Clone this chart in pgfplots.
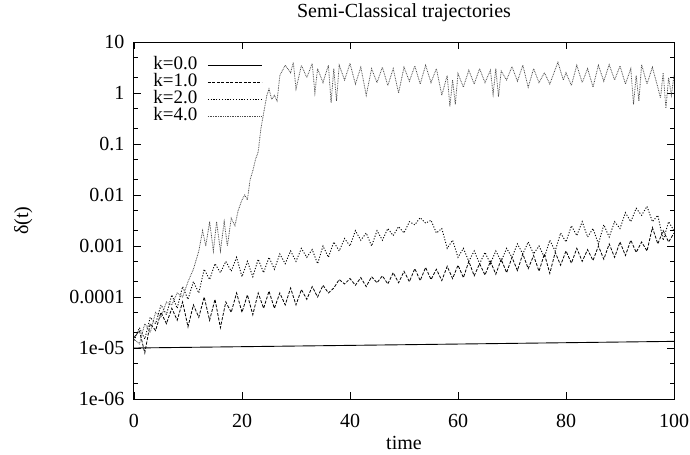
\documentclass[border=0pt]{standalone}
\usepackage{fontspec}
\setmainfont{Liberation Serif}
\usepackage{pgfplots}
\pgfplotsset{compat=1.18}
\begin{document}
\begin{tikzpicture}
\begin{axis}[
  name=ax,
  scale only axis, width=540bp, height=357bp,
  font=\fontsize{20bp}{23bp}\selectfont,
  xmin=0, xmax=100, ymode=log, ymin=1e-6, ymax=10,
  xtick={0,20,40,60,80,100},
  ytick={1e-6,1e-5,1e-4,1e-3,1e-2,1e-1,1,10},
  yticklabels={1e-06,1e-05,0.0001,0.001,0.01,0.1,1,10},
  minor ytick={2e-6,5e-6,2e-5,5e-5,2e-4,5e-4,2e-3,5e-3,0.02,0.05,0.2,0.5,2,5},
  /pgf/number format/assume math mode=true,
  tick align=inside, xtick pos=both, ytick pos=both,
  major tick length=7bp, minor tick length=4bp,
  every tick/.style={black, line width=0.8bp},
  axis line style={line width=1bp},
  xticklabel style={yshift=-12bp},
  yticklabel style={xshift=-6bp},
  title={Semi-Classical trajectories},
  title style={at={(axis description cs:0.5,1)}, anchor=base, yshift=19bp},
  xlabel={time},
  xlabel style={at={(axis description cs:0.5,0)}, anchor=base, yshift=-50bp},
  ylabel={δ(t)},
  ylabel style={at={(axis description cs:-0.205,0.5)}, anchor=center, rotate=0},
  legend style={draw=none, fill=none, at={(axis description cs:0.03,0.965)}, anchor=north west,
    font=\fontsize{19bp}{21bp}\selectfont,
    nodes={text height=13bp, text depth=4bp, inner sep=0bp}, row sep=0pt, column sep=10bp,
    cells={anchor=east}},
  legend plot pos=right,
  legend image code/.code={\draw[#1] (0bp,0bp) -- (54bp,0bp);},
]
% k=0
\addplot[black, solid, line width=0.9bp] table {
0 1.0e-5
50 1.16e-5
100 1.35e-5
};
\addlegendentry{k=0.0}
% k=1
\addplot[black, line width=0.8bp, dash pattern=on 3bp off 1.5bp] table {
0 1.6e-5
1 2.2e-5
2 8e-6
3 3e-5
4 2.2e-5
5 5e-5
6 3e-5
7 6e-5
8 3.5e-5
9 8e-5
10 2.6e-5
11 7e-5
12 4e-5
13 1e-4
14 3.5e-5
15 9e-5
16 2.5e-5
17 8e-5
18 5e-5
19 1.2e-4
20 5e-5
21 1.1e-4
22 4.5e-5
23 1.2e-4
24 6e-5
25 1.3e-4
26 6e-5
27 1.2e-4
28 7e-5
29 1.5e-4
30 7e-5
31 1.4e-4
32 9e-5
33 1.6e-4
34 1e-4
35 1.7e-4
36 1.2e-4
37 1.5e-4
38 2.2e-4
39 1.8e-4
40 2.3e-4
41 1.7e-4
42 2.4e-4
43 1.6e-4
44 2.5e-4
45 1.9e-4
46 2.6e-4
47 1.8e-4
48 3e-4
49 1.9e-4
50 3.2e-4
51 2e-4
52 3.6e-4
53 2.1e-4
54 3.8e-4
55 2.2e-4
56 3.5e-4
57 2.1e-4
58 4e-4
59 2.3e-4
60 4.2e-4
61 2.4e-4
62 5e-4
63 2.6e-4
64 4.5e-4
65 2.7e-4
66 5e-4
67 2.8e-4
68 5.5e-4
69 3e-4
70 6e-4
71 3.3e-4
72 7e-4
73 3.6e-4
74 6.5e-4
75 3.2e-4
76 7e-4
77 2.9e-4
78 7.5e-4
79 4.2e-4
80 8e-4
81 4.6e-4
82 9e-4
83 5e-4
84 8.5e-4
85 5.2e-4
86 1e-3
87 5.5e-4
88 1.1e-3
89 6e-4
90 1.2e-3
91 6.5e-4
92 1.3e-3
93 7.5e-4
94 1.2e-3
95 8e-4
96 2.3e-3
97 1.1e-3
98 2e-3
99 1.2e-3
100 1.8e-3
};
\addlegendentry{k=1.0}
% k=2
\addplot[black, line width=0.9bp, dash pattern=on 1.1bp off 1.7bp] table {
0 1.4e-5
1 2.5e-5
2 1.5e-5
3 4e-5
4 3e-5
5 7e-5
6 4.5e-5
7 1.1e-4
8 6e-5
9 1.6e-4
10 9e-5
11 2e-4
12 1.2e-4
13 3.5e-4
14 2.2e-4
15 4.5e-4
16 3e-4
17 5e-4
18 3.2e-4
19 6e-4
20 2.5e-4
21 5e-4
22 2.5e-4
23 5.5e-4
24 3e-4
25 6e-4
26 3.5e-4
27 7e-4
28 4.5e-4
29 8e-4
30 5e-4
31 9e-4
32 6e-4
33 8.5e-4
34 4.5e-4
35 1e-3
36 6e-4
37 1.2e-3
38 8e-4
39 1.4e-3
40 1e-3
41 2e-3
42 1.3e-3
43 1.8e-3
44 1e-3
45 2e-3
46 1.3e-3
47 2.2e-3
48 1.6e-3
49 2.4e-3
50 1.8e-3
51 3e-3
52 2.6e-3
53 3.6e-3
54 2.8e-3
55 3.2e-3
56 1.8e-3
57 2.2e-3
58 9e-4
59 1.3e-3
60 6e-4
61 9e-4
62 5e-4
63 8e-4
64 4.5e-4
65 7.5e-4
66 4.5e-4
67 8e-4
68 5e-4
69 9e-4
70 6e-4
71 1.1e-3
72 7e-4
73 1.2e-3
74 7e-4
75 1e-3
76 6e-4
77 1.3e-3
78 8e-4
79 1.8e-3
80 1.2e-3
81 2.5e-3
82 1.6e-3
83 3e-3
84 1.5e-3
85 2.2e-3
86 1.1e-3
87 2.6e-3
88 1.5e-3
89 3e-3
90 2.2e-3
91 4.5e-3
92 3e-3
93 5.5e-3
94 4e-3
95 6e-3
96 3e-3
97 4e-3
98 1.3e-3
99 3e-3
100 2e-3
};
\addlegendentry{k=2.0}
% k=4
\addplot[black!70, line width=0.8bp, dash pattern=on 0.8bp off 0.9bp] table {
0 1.5e-5
1 1.2e-5
2 3e-5
3 2e-5
4 5e-5
5 4e-5
6 8e-5
7 7e-5
8 1.2e-4
9 1e-4
10 2e-4
11 3.5e-4
12 8e-4
12.7 2e-3
13.3 1e-3
14 3e-3
14.7 8e-4
15.3 3e-3
16 8e-4
16.7 3e-3
17.3 1e-3
18 3.5e-3
18.7 2.5e-3
19.3 5e-3
20 8e-3
20.5 1e-2
21 8e-3
21.5 2e-2
22 3e-2
22.5 5e-2
23 7e-2
23.5 0.2
24 0.4
24.6 0.9
25 1.2
25.5 0.75
26 0.9
26.5 0.7
27 2.2
28 3.5
29 2.5
29.5 4
30 1.2
31 3.5
32 2
33 3.8
33.5 1.0
34 3
35 1.6
36 3.5
36.5 0.65
37 3
37.5 0.7
38 3.5
39 1.8
40 3.8
41 1.5
42 3.2
43 0.9
44 3
45 1.6
46 3.2
47 1.4
48 3
49 1.0
50 3.2
51 1.7
52 3.4
53 1.5
54 3.5
55 1.6
56 3.0
57 0.9
58 2.2
58.5 0.55
59 1.8
59.5 0.6
60 2.4
61 1.3
62 2.8
63 1.5
64 3
65 1.6
66 2.8
66.5 0.95
67 3
67.5 0.85
68 2.7
69 1.8
70 3.3
71 1.7
72 3.5
73 1.3
74 3
75 1.6
76 2.5
77 1.5
78.5 4
79.5 1.8
80 2.5
81 1.4
82 3.5
83 1.6
84 3
85 1.3
86 3.5
87 1.7
88 3.6
89 1.8
90 3.4
91 1.5
92 3
92.5 0.6
93 2.2
93.5 0.7
94 3.6
95 1.5
96 3.2
97 1.3
97.5 0.8
98 2.5
98.5 0.5
99 2
99.5 0.9
100 2.2
};
\addlegendentry{k=4.0}
\end{axis}
\pgfresetboundingbox
\path[use as bounding box] ([xshift=-134bp,yshift=-56bp]ax.south west) rectangle ++(690bp,455bp);
\end{tikzpicture}
\end{document}
